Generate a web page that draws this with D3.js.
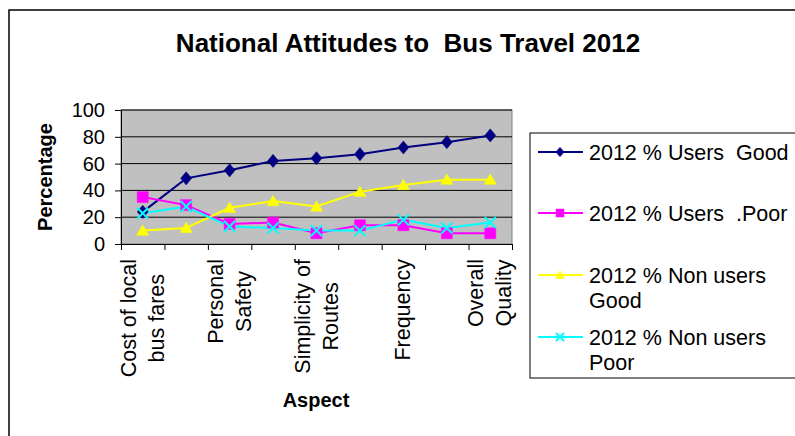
<!DOCTYPE html>
<html>
<head>
<meta charset="utf-8">
<script src="https://d3js.org/d3.v7.min.js"></script>
<style>
  body { margin: 0; background: #fff; }
  svg { display: block; font-family: "Liberation Sans", Arial, sans-serif; }
</style>
</head>
<body>
<div id="chart"></div>
<script>
// categories (Excel only shows every other label)
const aspects = ["Cost of local\nbus fares", "", "Personal\nSafety", "", "Simplicity of\nRoutes", "", "Frequency", "", "Overall\nQuality"];
const yTicks = [0, 20, 40, 60, 80, 100];

const seriesNames = ["2012 % Users  Good", "2012 % Users  .Poor", "2012 % Non users\nGood", "2012 % Non users\nPoor"];
const usersGood = [24, 49, 55, 62, 64, 67, 72, 76, 81];
const usersPoor = [35, 29, 15, 16, 8, 14, 14, 8, 8];
const nonUsersGood = [10, 12, 27, 32, 28, 39, 44, 48, 48];
const nonUsersPoor = [23, 28, 13, 12, 10, 10, 18, 12, 16];

function plot() {
  const width = 795, height = 436;
  const plotBox = {left: 121, right: 512, top: 110, bottom: 244};

  const svg = d3.select("#chart").append("svg")
      .attr("width", width)
      .attr("height", height);

  // chart area border
  svg.append("rect")
      .attr("x", 9).attr("y", 10)
      .attr("width", 820).attr("height", 450)
      .attr("fill", "#fff")
      .attr("stroke", "#000")
      .attr("stroke-width", 1.5);

  // title
  svg.append("text")
      .attr("x", 408).attr("y", 52)
      .attr("text-anchor", "middle")
      .attr("font-weight", "bold")
      .attr("font-size", "26px")
      .text("National Attitudes to  Bus Travel 2012")
      .style("white-space", "pre");

  const x = d3.scaleBand()
      .domain(d3.range(aspects.length))
      .range([plotBox.left, plotBox.right]);
  const xEdge = d3.scaleLinear()
      .domain([0, aspects.length])
      .range([plotBox.left, plotBox.right]);
  const y = d3.scaleLinear()
      .domain([0, 100])
      .range([plotBox.bottom, plotBox.top]);
  const cx = i => x(i) + x.bandwidth() / 2;

  // plot area
  svg.append("rect")
      .attr("x", plotBox.left).attr("y", plotBox.top)
      .attr("width", plotBox.right - plotBox.left)
      .attr("height", plotBox.bottom - plotBox.top)
      .attr("fill", "#c0c0c0")
      .attr("stroke", "#808080")
      .attr("stroke-width", 1);

  // gridlines
  svg.append("g")
    .selectAll("line")
    .data(yTicks.filter(d => d > 0))
    .join("line")
      .attr("x1", plotBox.left).attr("x2", plotBox.right)
      .attr("y1", d => y(d)).attr("y2", d => y(d))
      .attr("stroke", "#000")
      .attr("stroke-width", 1);

  // y axis
  const yAxis = d3.axisLeft(y).tickValues(yTicks).tickSize(6).tickPadding(10).tickSizeOuter(0);
  svg.append("g")
      .attr("transform", `translate(${plotBox.left},0)`)
      .call(yAxis)
      .call(g => g.selectAll("text").attr("font-size", "20px").attr("fill", "#000").attr("font-family", null))
      .call(g => g.selectAll("line, path").attr("stroke", "#000"));

  // x axis tick marks at category edges
  const xAxis = d3.axisBottom(xEdge).tickValues(d3.range(aspects.length + 1)).tickFormat("").tickSize(6).tickSizeOuter(0);
  svg.append("g")
      .attr("transform", `translate(0,${plotBox.bottom})`)
      .call(xAxis)
      .call(g => g.selectAll("line, path").attr("stroke", "#000"));

  // rotated category labels
  const labels = svg.append("g").attr("font-size", "21.5px");
  aspects.forEach((name, i) => {
    if (!name) return;
    const lines = name.split("\n");
    const lh = 28;
    const grp = labels.append("g");
    const texts = lines.map((ln, k) => {
      const bx = cx(i) + (k - (lines.length - 1) / 2) * lh + 7;
      return grp.append("text")
          .attr("text-anchor", "middle")
          .attr("data-bx", bx)
          .text(ln);
    });
    const maxW = d3.max(texts, t => t.node().getComputedTextLength());
    const midY = 259 + maxW / 2;
    texts.forEach(t => {
      const bx = +t.attr("data-bx");
      t.attr("transform", `translate(${bx},${midY}) rotate(-90)`);
    });
  });

  // axis titles
  svg.append("text")
      .attr("x", 316).attr("y", 407)
      .attr("text-anchor", "middle")
      .attr("font-weight", "bold")
      .attr("font-size", "20px")
      .text("Aspect");

  svg.append("text")
      .attr("transform", `translate(52,${(plotBox.top + plotBox.bottom) / 2}) rotate(-90)`)
      .attr("text-anchor", "middle")
      .attr("font-weight", "bold")
      .attr("font-size", "20px")
      .text("Percentage");

  // series
  const series = [
    {name: seriesNames[0], values: usersGood, color: "#000080", marker: "diamond"},
    {name: seriesNames[1], values: usersPoor, color: "#ff00ff", marker: "square"},
    {name: seriesNames[2], values: nonUsersGood, color: "#ffff00", marker: "triangle"},
    {name: seriesNames[3], values: nonUsersPoor, color: "#00ffff", marker: "cross"}
  ];

  const line = d3.line()
      .x((d, i) => cx(i))
      .y(d => y(d));

  function markerPath(type, s) {
    if (type === "diamond") return `M0,${-s * 1.2}L${s},0L0,${s * 1.2}L${-s},0Z`;
    if (type === "square") return `M${-s},${-s}H${s}V${s}H${-s}Z`;
    if (type === "triangle") return `M0,${-s * 1.05}L${s * 1.1},${s * 0.85}L${-s * 1.1},${s * 0.85}Z`;
    return `M${-s},${-s}L${s},${s}M${-s},${s}L${s},${-s}`;
  }

  function drawMarker(g, type, color, s) {
    const p = g.append("path").attr("d", markerPath(type, s));
    if (type === "cross") {
      p.attr("fill", "none").attr("stroke", color).attr("stroke-width", 2);
    } else {
      p.attr("fill", color).attr("stroke", color).attr("stroke-width", 0.5);
    }
  }

  series.forEach(s => {
    svg.append("path")
        .datum(s.values)
        .attr("d", line)
        .attr("fill", "none")
        .attr("stroke", s.color)
        .attr("stroke-width", 2);
  });
  series.forEach(s => {
    s.values.forEach((v, i) => {
      const g = svg.append("g").attr("transform", `translate(${cx(i)},${y(v)})`);
      drawMarker(g, s.marker, s.color, 5.5);
    });
  });

  // legend
  svg.append("rect")
      .attr("x", 530).attr("y", 133)
      .attr("width", 280).attr("height", 245)
      .attr("fill", "#fff")
      .attr("stroke", "#000")
      .attr("stroke-width", 1);

  const legendRows = [152, 213, 275, 337];
  series.forEach((s, i) => {
    const ly = legendRows[i];
    const g = svg.append("g");
    g.append("line")
        .attr("x1", 538).attr("x2", 583)
        .attr("y1", ly).attr("y2", ly)
        .attr("stroke", s.color)
        .attr("stroke-width", 2);
    const m = g.append("g").attr("transform", `translate(560,${ly})`);
    drawMarker(m, s.marker, s.color, 4);
    const t = g.append("text")
        .attr("x", 589).attr("y", ly + 8)
        .attr("font-size", "21.5px")
        .style("white-space", "pre");
    s.name.split("\n").forEach((ln, k) => {
      t.append("tspan").attr("x", 589).attr("dy", k === 0 ? 0 : 25).text(ln);
    });
  });
}

plot();
</script>
</body>
</html>
